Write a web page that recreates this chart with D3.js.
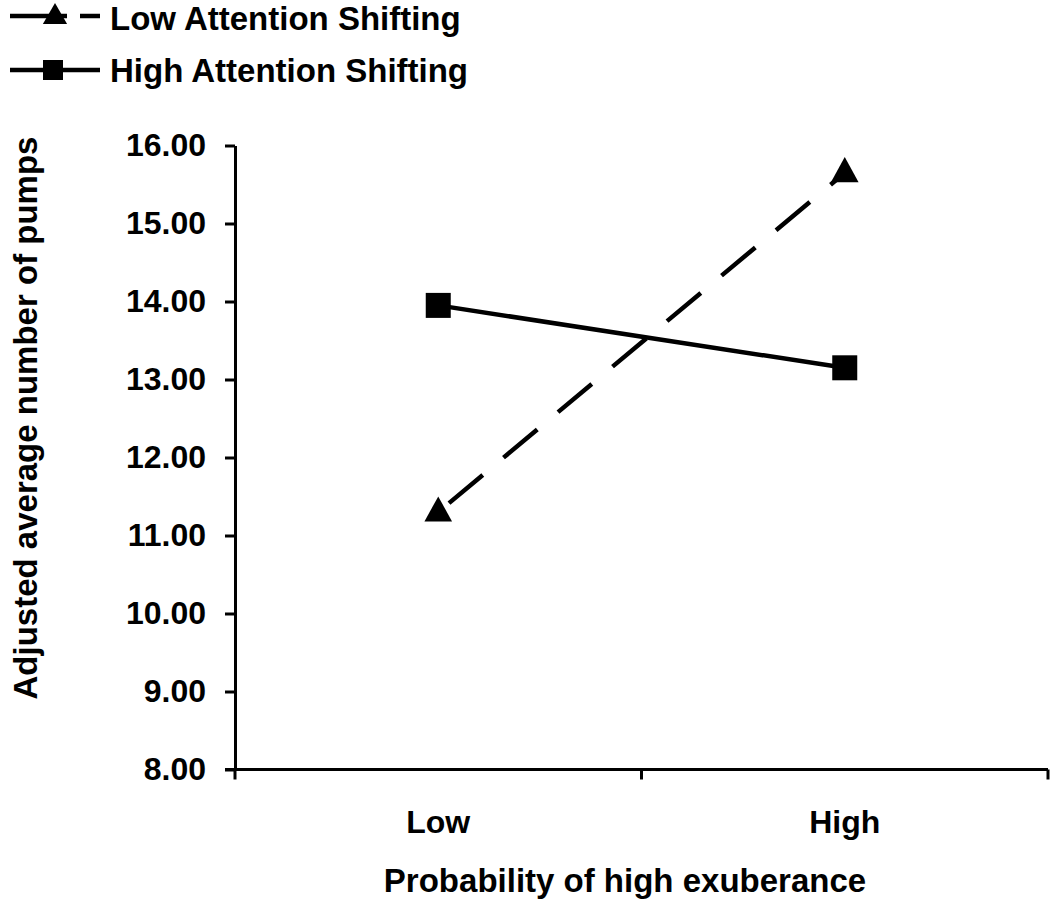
<!DOCTYPE html>
<html>
<head>
<meta charset="utf-8">
<script src="https://cdn.jsdelivr.net/npm/d3@7"></script>
<style>
  html, body { margin: 0; padding: 0; background: #fff; }
  svg { display: block; font-family: "Liberation Sans", Arial, sans-serif; font-weight: bold; }
</style>
</head>
<body>
<svg id="chart" width="1050" height="901"></svg>
<script>
const categories = ["Low", "High"];
const seriesNames = ["Low Attention Shifting", "High Attention Shifting"];
const lowAttentionValues = [11.30, 15.65];
const highAttentionValues = [13.95, 13.15];
const yTicks = [8, 9, 10, 11, 12, 13, 14, 15, 16];
const yTitle = "Adjusted average number of pumps";
const xTitle = "Probability of high exuberance";

const svg = d3.select("#chart");

const x = d3.scaleBand().domain(categories).range([235, 1048]).padding(0);
const y = d3.scaleLinear().domain([8, 16]).range([769.5, 145.5]);

// Y axis
const yAxis = svg.append("g")
  .attr("transform", "translate(235,0)")
  .call(d3.axisLeft(y).tickValues(yTicks).tickFormat(d3.format(".2f")).tickSize(10).tickPadding(19).tickSizeOuter(0));
yAxis.select(".domain").attr("stroke", "#000").attr("stroke-width", 3);
yAxis.selectAll(".tick line").attr("stroke", "#000").attr("stroke-width", 3);
yAxis.selectAll(".tick text").attr("font-size", 32).attr("font-family", "Liberation Sans, Arial, sans-serif").attr("font-weight", "bold").attr("fill", "#000");

// X axis line with boundary ticks
const xAxisG = svg.append("g");
const xr = x.range();
xAxisG.append("line").attr("x1", xr[0] - 10).attr("x2", xr[1]).attr("y1", y(8)).attr("y2", y(8))
  .attr("stroke", "#000").attr("stroke-width", 3);
const boundaries = categories.map(c => x(c)).concat([x(categories[categories.length - 1]) + x.bandwidth()]);
xAxisG.selectAll("line.bt").data(boundaries).enter().append("line")
  .attr("class", "bt")
  .attr("x1", d => d).attr("x2", d => d)
  .attr("y1", y(8)).attr("y2", y(8) + 10)
  .attr("stroke", "#000").attr("stroke-width", 3);
xAxisG.selectAll("text.cat").data(categories).enter().append("text")
  .attr("class", "cat")
  .attr("x", d => x(d) + x.bandwidth() / 2)
  .attr("y", 833)
  .attr("text-anchor", "middle")
  .attr("font-size", 32)
  .text(d => d);

// Axis titles
svg.append("text")
  .attr("transform", "translate(37,418) rotate(-90)")
  .attr("text-anchor", "middle")
  .attr("font-size", 33)
  .text(yTitle);
svg.append("text")
  .attr("x", 625).attr("y", 892)
  .attr("text-anchor", "middle")
  .attr("font-size", 33)
  .text(xTitle);

const cx = d => x(d) + x.bandwidth() / 2;
const line = d3.line().x(d => cx(d.c)).y(d => y(d.v));

const lowData = categories.map((c, i) => ({ c, v: lowAttentionValues[i] }));
const highData = categories.map((c, i) => ({ c, v: highAttentionValues[i] }));

// Low attention (dashed with triangles)
svg.append("path").datum(lowData).attr("d", line)
  .attr("fill", "none").attr("stroke", "#000").attr("stroke-width", 4.5)
  .attr("stroke-dasharray", "44,27").attr("stroke-dashoffset", -14);
const tri = d3.symbol().type(d3.symbolTriangle).size(300);
svg.selectAll("path.tri").data(lowData).enter().append("path")
  .attr("class", "tri")
  .attr("d", tri)
  .attr("transform", d => `translate(${cx(d.c)},${y(d.v) + 1}) scale(1.05,1.1)`)
  .attr("fill", "#000");

// High attention (solid with squares)
svg.append("path").datum(highData).attr("d", line)
  .attr("fill", "none").attr("stroke", "#000").attr("stroke-width", 4.5);
svg.selectAll("rect.sq").data(highData).enter().append("rect")
  .attr("class", "sq")
  .attr("x", d => cx(d.c) - 12.5).attr("y", d => y(d.v) - 12.5)
  .attr("width", 25).attr("height", 25)
  .attr("fill", "#000");

// Legend
const leg = svg.append("g");
leg.append("line").attr("x1", 10).attr("x2", 100).attr("y1", 16).attr("y2", 16)
  .attr("stroke", "#000").attr("stroke-width", 4.5).attr("stroke-dasharray", "57,13,20");
leg.append("path").attr("d", d3.symbol().type(d3.symbolTriangle).size(230))
  .attr("transform", "translate(55,17) scale(1.05,1.05)").attr("fill", "#000");
leg.append("text").attr("x", 110).attr("y", 30).attr("font-size", 33).text(seriesNames[0]);

leg.append("line").attr("x1", 10).attr("x2", 100).attr("y1", 70).attr("y2", 70)
  .attr("stroke", "#000").attr("stroke-width", 4.5);
leg.append("rect").attr("x", 43).attr("y", 60).attr("width", 20).attr("height", 20).attr("fill", "#000");
leg.append("text").attr("x", 110).attr("y", 82).attr("font-size", 33).text(seriesNames[1]);
</script>
</body>
</html>
